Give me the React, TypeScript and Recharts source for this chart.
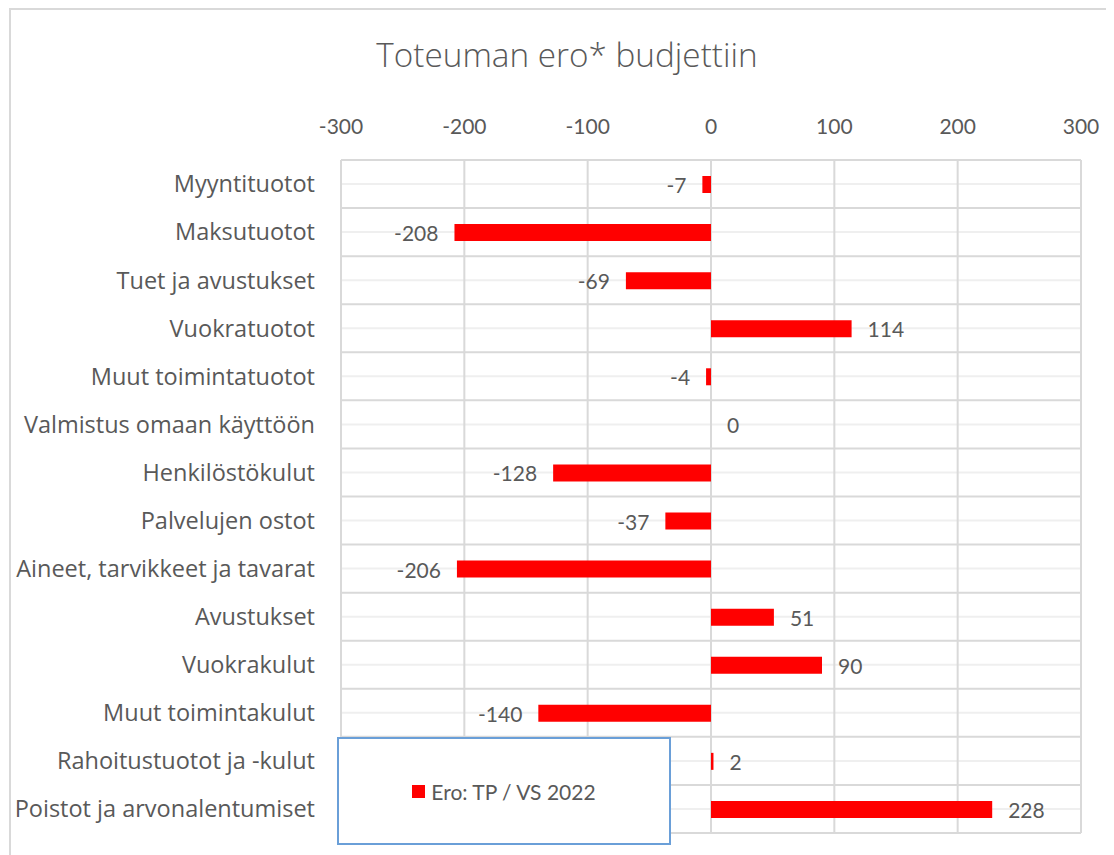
import React from "react";
import {
  BarChart,
  Bar,
  XAxis,
  YAxis,
  CartesianGrid,
  LabelList,
  Legend,
  Cell,
} from "recharts";

const categories = [
  "Myyntituotot",
  "Maksutuotot",
  "Tuet ja avustukset",
  "Vuokratuotot",
  "Muut toimintatuotot",
  "Valmistus omaan käyttöön",
  "Henkilöstökulut",
  "Palvelujen ostot",
  "Aineet, tarvikkeet ja tavarat",
  "Avustukset",
  "Vuokrakulut",
  "Muut toimintakulut",
  "Rahoitustuotot ja -kulut",
  "Poistot ja arvonalentumiset",
];
const values = [-7, -208, -69, 114, -4, 0, -128, -37, -206, 51, 90, -140, 2, 228];
const xTicks = [-300, -200, -100, 0, 100, 200, 300];
const seriesName = "Ero: TP / VS 2022";
const title = "Toteuman ero* budjettiin";

const data = categories.map((name, i) => ({ name, value: values[i] }));

const FONT = "Lato, 'Open Sans', sans-serif";
const CAT_FONT = "'Open Sans', Lato, sans-serif";
const TEXT = "#595959";
const RED = "#ff0000";

const ValueLabel = (props: any) => {
  const { x, y, width, height, value } = props;
  const left = Math.min(x, x + width);
  const right = Math.max(x, x + width);
  const cy = y + height / 2;
  const neg = value < 0;
  return (
    <text
      x={neg ? left - 16 : value === 0 ? left + 16 : right + 16}
      y={cy}
      textAnchor={neg ? "end" : "start"}
      dominantBaseline="central"
      fill={TEXT}
      fontSize={21}
      fontFamily={FONT}
    >
      {value}
    </text>
  );
};

const boundaryGenerator = (props: any) => {
  const { offset } = props;
  const n = categories.length;
  const out: number[] = [];
  for (let i = 0; i <= n; i++) out.push(offset.top + (offset.height * i) / n);
  return out;
};

const LegendBox = () => (
  <div
    style={{
      width: 334,
      height: 108,
      boxSizing: "border-box",
      border: "2px solid #6a9fd8",
      background: "#fff",
      display: "flex",
      alignItems: "center",
      justifyContent: "center",
      fontFamily: FONT,
      fontSize: 21,
      color: TEXT,
    }}
  >
    <span
      style={{
        display: "inline-block",
        width: 13,
        height: 13,
        background: RED,
        marginRight: 6,
      }}
    />
    <span>{seriesName}</span>
  </div>
);

export default function App() {
  return (
    <div style={{ position: "relative", width: 1106, height: 847 }}>
      <style>{`body{overflow:hidden}`}</style>
      <div
        style={{
          position: "absolute",
          left: 1,
          top: 0,
          width: 1105,
          height: 847,
          boxSizing: "border-box",
          borderTop: "2px solid #d9d9d9",
          borderLeft: "2px solid #d9d9d9",
        }}
      />
      <div
        style={{
          position: "absolute",
          left: 0,
          top: 23,
          width: 1118,
          textAlign: "center",
          fontFamily: CAT_FONT,
          fontWeight: 300,
          fontSize: 33.3,
          color: TEXT,
        }}
      >
        {title}
      </div>
      <div style={{ position: "absolute", left: 0, top: 0 }}>
        <BarChart
          width={1106}
          height={847}
          data={data}
          layout="vertical"
          margin={{ top: 112, right: 33, bottom: 22, left: 0 }}
        >
          <CartesianGrid
            horizontal={true}
            vertical={false}
            stroke="#efefef"
            strokeWidth={2}
          />
          <CartesianGrid
            horizontal={true}
            vertical={true}
            horizontalCoordinatesGenerator={boundaryGenerator}
            stroke="#d9d9d9"
            strokeWidth={2}
          />
          <XAxis
            type="number"
            orientation="top"
            domain={[-300, 300]}
            ticks={xTicks}
            height={40}
            axisLine={false}
            tickLine={false}
            tickSize={0}
            tickMargin={26}
            interval={0}
            tick={{ fill: TEXT, fontSize: 21, fontFamily: FONT }}
          />
          <YAxis
            type="category"
            dataKey="name"
            width={333}
            axisLine={false}
            tickLine={false}
            tickSize={0}
            tickMargin={26}
            interval={0}
            tick={{ fill: TEXT, fontSize: 23.5, fontFamily: CAT_FONT }}
          />
          <Bar
            dataKey="value"
            name={seriesName}
            fill={RED}
            barSize={17}
            minPointSize={1}
            isAnimationActive={false}
          >
            {data.map((d, i) => (
              <Cell key={i} fill={d.value === 0 ? "transparent" : RED} />
            ))}
            <LabelList dataKey="value" content={ValueLabel} />
          </Bar>
          <Legend
            layout="vertical"
            align="center"
            verticalAlign="middle"
            wrapperStyle={{ left: 329, top: 729, width: 334, height: 108 }}
            content={() => <LegendBox />}
          />
        </BarChart>
      </div>
    </div>
  );
}
